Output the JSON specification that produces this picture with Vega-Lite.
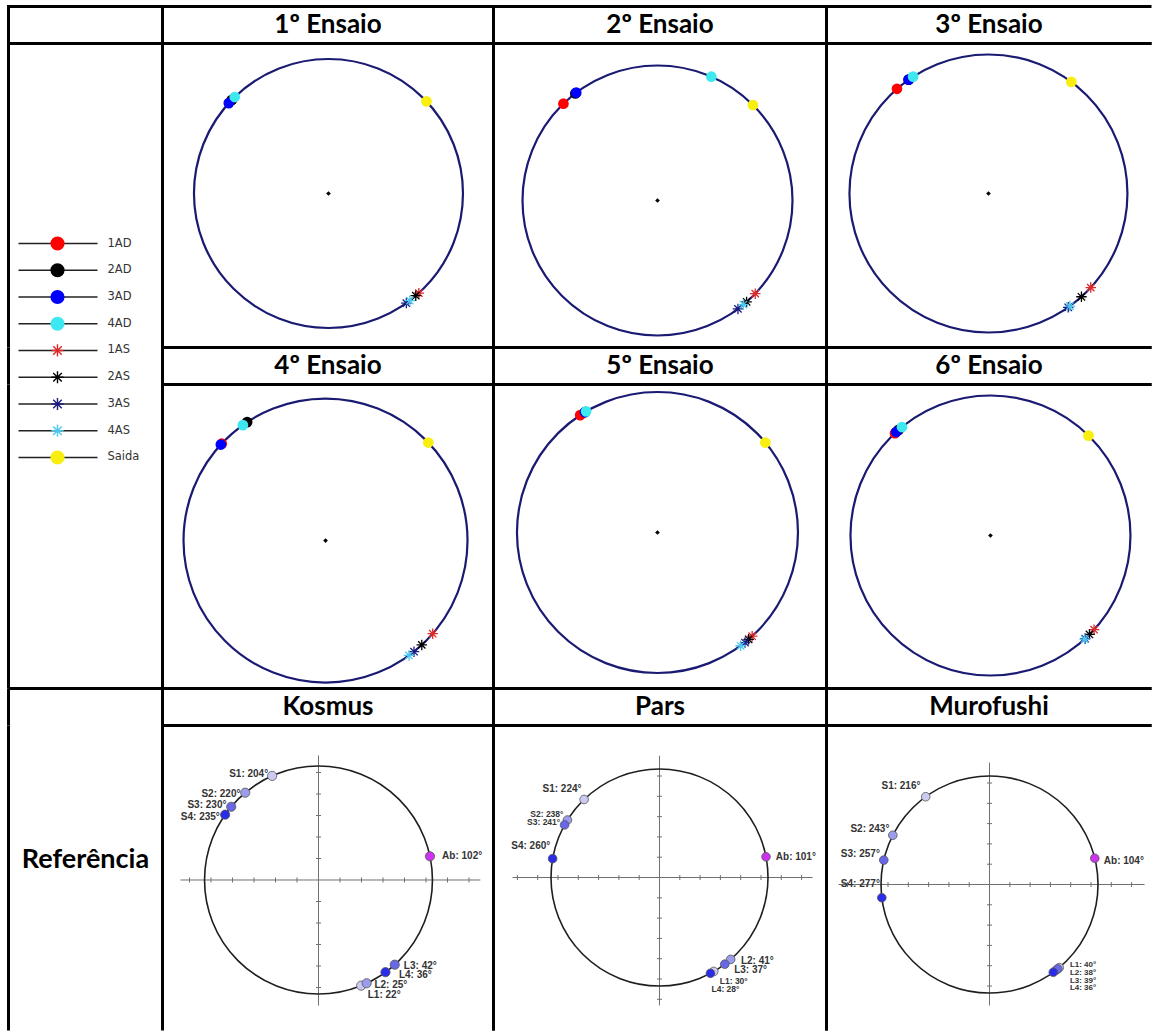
{
  "$schema": "https://vega.github.io/schema/vega-lite/v6.json",
  "background": "white",
  "padding": {"left": 6.5, "top": 4.5, "right": 0, "bottom": 0},
  "config": {"view": {"stroke": "#000000", "strokeWidth": 3}, "point": {"opacity": 1}},
  "datasets": {
    "ens": [
      {"e":1,"s":"1AD","k":"c","x":-0.719,"y":0.695},{"e":1,"s":"2AD","k":"c","x":-0.719,"y":0.695},{"e":1,"s":"3AD","k":"c","x":-0.741,"y":0.672},{"e":1,"s":"4AD","k":"c","x":-0.697,"y":0.717},{"e":1,"s":"Saida","k":"c","x":0.729,"y":0.685},
      {"e":1,"s":"1AS","k":"a","x":0.672,"y":-0.741},{"e":1,"s":"2AS","k":"a","x":0.649,"y":-0.760},{"e":1,"s":"3AS","k":"a","x":0.579,"y":-0.815},{"e":1,"s":"4AS","k":"a","x":0.605,"y":-0.797},
      {"e":2,"s":"1AD","k":"c","x":-0.697,"y":0.717},{"e":2,"s":"2AD","k":"c","x":-0.609,"y":0.793},{"e":2,"s":"3AD","k":"c","x":-0.602,"y":0.799},{"e":2,"s":"4AD","k":"c","x":0.399,"y":0.917},{"e":2,"s":"Saida","k":"c","x":0.707,"y":0.707},
      {"e":2,"s":"1AS","k":"a","x":0.724,"y":-0.690},{"e":2,"s":"2AS","k":"a","x":0.660,"y":-0.751},{"e":2,"s":"3AS","k":"a","x":0.596,"y":-0.803},{"e":2,"s":"4AS","k":"a","x":0.637,"y":-0.771},
      {"e":3,"s":"1AD","k":"c","x":-0.658,"y":0.753},{"e":3,"s":"2AD","k":"c","x":-0.574,"y":0.819},{"e":3,"s":"3AD","k":"c","x":-0.574,"y":0.819},{"e":3,"s":"4AD","k":"c","x":-0.542,"y":0.841},{"e":3,"s":"Saida","k":"c","x":0.596,"y":0.803},
      {"e":3,"s":"1AS","k":"a","x":0.736,"y":-0.677},{"e":3,"s":"2AS","k":"a","x":0.669,"y":-0.743},{"e":3,"s":"3AS","k":"a","x":0.574,"y":-0.819},{"e":3,"s":"4AS","k":"a","x":0.586,"y":-0.810},
      {"e":4,"s":"1AD","k":"c","x":-0.731,"y":0.682},{"e":4,"s":"2AD","k":"c","x":-0.552,"y":0.834},{"e":4,"s":"3AD","k":"c","x":-0.737,"y":0.676},{"e":4,"s":"4AD","k":"c","x":-0.582,"y":0.813},{"e":4,"s":"Saida","k":"c","x":0.724,"y":0.690},
      {"e":4,"s":"1AS","k":"a","x":0.755,"y":-0.656},{"e":4,"s":"2AS","k":"a","x":0.678,"y":-0.735},{"e":4,"s":"3AS","k":"a","x":0.623,"y":-0.783},{"e":4,"s":"4AS","k":"a","x":0.588,"y":-0.809},
      {"e":5,"s":"1AD","k":"c","x":-0.550,"y":0.835},{"e":5,"s":"2AD","k":"c","x":-0.515,"y":0.857},{"e":5,"s":"3AD","k":"c","x":-0.515,"y":0.857},{"e":5,"s":"4AD","k":"c","x":-0.508,"y":0.862},{"e":5,"s":"Saida","k":"c","x":0.768,"y":0.640},
      {"e":5,"s":"1AS","k":"a","x":0.674,"y":-0.738},{"e":5,"s":"2AS","k":"a","x":0.649,"y":-0.760},{"e":5,"s":"3AS","k":"a","x":0.623,"y":-0.783},{"e":5,"s":"4AS","k":"a","x":0.592,"y":-0.806},
      {"e":6,"s":"1AD","k":"c","x":-0.682,"y":0.731},{"e":6,"s":"2AD","k":"c","x":-0.656,"y":0.755},{"e":6,"s":"3AD","k":"c","x":-0.673,"y":0.740},{"e":6,"s":"4AD","k":"c","x":-0.632,"y":0.775},{"e":6,"s":"Saida","k":"c","x":0.700,"y":0.714},
      {"e":6,"s":"1AS","k":"a","x":0.740,"y":-0.673},{"e":6,"s":"2AS","k":"a","x":0.707,"y":-0.707},{"e":6,"s":"3AS","k":"a","x":0.676,"y":-0.737},{"e":6,"s":"4AS","k":"a","x":0.673,"y":-0.740}
    ],
    "leg": [
      {"s":"1AD","i":0,"k":"c"},{"s":"2AD","i":1,"k":"c"},{"s":"3AD","i":2,"k":"c"},{"s":"4AD","i":3,"k":"c"},
      {"s":"1AS","i":4,"k":"a"},{"s":"2AS","i":5,"k":"a"},{"s":"3AS","i":6,"k":"a"},{"s":"4AS","i":7,"k":"a"},{"s":"Saida","i":8,"k":"c"}
    ],
    "refpts": [
      {"p":"K","n":"S1","g":"1","x":-2.156,"y":4.842},{"p":"K","n":"S2","g":"2","x":-3.407,"y":4.060},{"p":"K","n":"S3","g":"3","x":-4.060,"y":3.407},{"p":"K","n":"S4","g":"4","x":-4.342,"y":3.040},{"p":"K","n":"Ab","g":"Ab","x":5.184,"y":1.102},
      {"p":"K","n":"L1","g":"1","x":1.985,"y":-4.914},{"p":"K","n":"L2","g":"2","x":2.240,"y":-4.803},{"p":"K","n":"L3","g":"3","x":3.546,"y":-3.939},{"p":"K","n":"L4","g":"4","x":3.115,"y":-4.288},
      {"p":"P","n":"S1","g":"1","x":-3.713,"y":3.845},{"p":"P","n":"S2","g":"2","x":-4.533,"y":2.832},{"p":"P","n":"S3","g":"3","x":-4.675,"y":2.591},{"p":"P","n":"S4","g":"4","x":-5.264,"y":0.928},{"p":"P","n":"Ab","g":"Ab","x":5.247,"y":1.020},
      {"p":"P","n":"L1","g":"1","x":2.673,"y":-4.629},{"p":"P","n":"L2","g":"2","x":3.507,"y":-4.034},{"p":"P","n":"L3","g":"3","x":3.217,"y":-4.269},{"p":"P","n":"L4","g":"4","x":2.509,"y":-4.719},
      {"p":"M","n":"S1","g":"1","x":-3.142,"y":4.324},{"p":"M","n":"S2","g":"2","x":-4.762,"y":2.427},{"p":"M","n":"S3","g":"3","x":-5.208,"y":1.203},{"p":"M","n":"S4","g":"4","x":-5.305,"y":-0.651},{"p":"M","n":"Ab","g":"Ab","x":5.186,"y":1.293},
      {"p":"M","n":"L1","g":"1","x":3.436,"y":-4.094},{"p":"M","n":"L2","g":"2","x":3.291,"y":-4.212},{"p":"M","n":"L3","g":"3","x":3.364,"y":-4.154},{"p":"M","n":"L4","g":"4","x":3.142,"y":-4.324}
    ],
    "reflab": [
      {"p":"K","t":"S1: 204°","x":-2.34,"y":4.94,"a":"r","z":"n"},{"p":"K","t":"S2: 220°","x":-3.63,"y":4.01,"a":"r","z":"n"},{"p":"K","t":"S3: 230°","x":-4.28,"y":3.50,"a":"r","z":"n"},{"p":"K","t":"S4: 235°","x":-4.59,"y":2.95,"a":"r","z":"n"},
      {"p":"K","t":"Ab: 102°","x":5.75,"y":1.11,"a":"l","z":"n"},{"p":"K","t":"L3: 42°","x":3.97,"y":-3.98,"a":"l","z":"n"},{"p":"K","t":"L4: 36°","x":3.74,"y":-4.44,"a":"l","z":"n"},{"p":"K","t":"L2: 25°","x":2.60,"y":-4.88,"a":"l","z":"n"},{"p":"K","t":"L1: 22°","x":2.29,"y":-5.37,"a":"l","z":"n"},
      {"p":"P","t":"S1: 224°","x":-3.84,"y":4.37,"a":"r","z":"n"},{"p":"P","t":"S2: 238°","x":-4.73,"y":3.14,"a":"r","z":"s"},{"p":"P","t":"S3: 241°","x":-4.89,"y":2.75,"a":"r","z":"s"},{"p":"P","t":"S4: 260°","x":-5.38,"y":1.53,"a":"r","z":"n"},
      {"p":"P","t":"Ab: 101°","x":5.73,"y":0.99,"a":"l","z":"n"},{"p":"P","t":"L2: 41°","x":4.01,"y":-4.09,"a":"l","z":"n"},{"p":"P","t":"L3: 37°","x":3.68,"y":-4.58,"a":"l","z":"n"},{"p":"P","t":"L1: 30°","x":2.97,"y":-5.10,"a":"l","z":"s"},{"p":"P","t":"L4: 28°","x":2.56,"y":-5.50,"a":"l","z":"s"},
      {"p":"M","t":"S1: 216°","x":-3.40,"y":4.83,"a":"r","z":"n"},{"p":"M","t":"S2: 243°","x":-4.93,"y":2.71,"a":"r","z":"n"},{"p":"M","t":"S3: 257°","x":-5.40,"y":1.48,"a":"r","z":"n"},{"p":"M","t":"S4: 277°","x":-5.40,"y":0.03,"a":"r","z":"n"},
      {"p":"M","t":"Ab: 104°","x":5.63,"y":1.18,"a":"l","z":"n"},{"p":"M","t":"L1: 40°","x":3.96,"y":-3.97,"a":"l","z":"s"},{"p":"M","t":"L2: 38°","x":3.96,"y":-4.35,"a":"l","z":"s"},{"p":"M","t":"L3: 39°","x":3.96,"y":-4.73,"a":"l","z":"s"},{"p":"M","t":"L4: 36°","x":3.96,"y":-5.11,"a":"l","z":"s"}
    ],
    "refax": [
      {"p":"K","x":-6.42,"x2":7.53,"y":0,"y2":0},{"p":"K","x":0,"x2":0,"y":-5.84,"y2":5.79},
      {"p":"P","x":-7.24,"x2":7.54,"y":0,"y2":0},{"p":"P","x":0,"x2":0,"y":-6.3,"y2":6.0},
      {"p":"M","x":-7.44,"x2":7.64,"y":0,"y2":0},{"p":"M","x":0,"x2":0,"y":-5.96,"y2":6.0}
    ],
    "reftk": [
      {"p":"K","o":"h","x":-6,"y":0},{"p":"K","o":"h","x":-5,"y":0},{"p":"K","o":"h","x":-4,"y":0},{"p":"K","o":"h","x":-3,"y":0},{"p":"K","o":"h","x":-2,"y":0},{"p":"K","o":"h","x":-1,"y":0},
      {"p":"K","o":"h","x":1,"y":0},{"p":"K","o":"h","x":2,"y":0},{"p":"K","o":"h","x":3,"y":0},{"p":"K","o":"h","x":4,"y":0},{"p":"K","o":"h","x":5,"y":0},{"p":"K","o":"h","x":6,"y":0},{"p":"K","o":"h","x":7,"y":0},
      {"p":"K","o":"v","x":0,"y":-5},{"p":"K","o":"v","x":0,"y":-4},{"p":"K","o":"v","x":0,"y":-3},{"p":"K","o":"v","x":0,"y":-2},{"p":"K","o":"v","x":0,"y":-1},
      {"p":"K","o":"v","x":0,"y":1},{"p":"K","o":"v","x":0,"y":2},{"p":"K","o":"v","x":0,"y":3},{"p":"K","o":"v","x":0,"y":4},{"p":"K","o":"v","x":0,"y":5},
      {"p":"P","o":"h","x":-7,"y":0},{"p":"P","o":"h","x":-6,"y":0},{"p":"P","o":"h","x":-5,"y":0},{"p":"P","o":"h","x":-4,"y":0},{"p":"P","o":"h","x":-3,"y":0},{"p":"P","o":"h","x":-2,"y":0},{"p":"P","o":"h","x":-1,"y":0},
      {"p":"P","o":"h","x":1,"y":0},{"p":"P","o":"h","x":2,"y":0},{"p":"P","o":"h","x":3,"y":0},{"p":"P","o":"h","x":4,"y":0},{"p":"P","o":"h","x":5,"y":0},{"p":"P","o":"h","x":6,"y":0},{"p":"P","o":"h","x":7,"y":0},
      {"p":"P","o":"v","x":0,"y":-6},{"p":"P","o":"v","x":0,"y":-5},{"p":"P","o":"v","x":0,"y":-4},{"p":"P","o":"v","x":0,"y":-3},{"p":"P","o":"v","x":0,"y":-2},{"p":"P","o":"v","x":0,"y":-1},
      {"p":"P","o":"v","x":0,"y":1},{"p":"P","o":"v","x":0,"y":2},{"p":"P","o":"v","x":0,"y":3},{"p":"P","o":"v","x":0,"y":4},{"p":"P","o":"v","x":0,"y":5},
      {"p":"M","o":"h","x":-7,"y":0},{"p":"M","o":"h","x":-6,"y":0},{"p":"M","o":"h","x":-5,"y":0},{"p":"M","o":"h","x":-4,"y":0},{"p":"M","o":"h","x":-3,"y":0},{"p":"M","o":"h","x":-2,"y":0},{"p":"M","o":"h","x":-1,"y":0},
      {"p":"M","o":"h","x":1,"y":0},{"p":"M","o":"h","x":2,"y":0},{"p":"M","o":"h","x":3,"y":0},{"p":"M","o":"h","x":4,"y":0},{"p":"M","o":"h","x":5,"y":0},{"p":"M","o":"h","x":6,"y":0},{"p":"M","o":"h","x":7,"y":0},
      {"p":"M","o":"v","x":0,"y":-5},{"p":"M","o":"v","x":0,"y":-4},{"p":"M","o":"v","x":0,"y":-3},{"p":"M","o":"v","x":0,"y":-2},{"p":"M","o":"v","x":0,"y":-1},
      {"p":"M","o":"v","x":0,"y":1},{"p":"M","o":"v","x":0,"y":2},{"p":"M","o":"v","x":0,"y":3},{"p":"M","o":"v","x":0,"y":4},{"p":"M","o":"v","x":0,"y":5}
    ]
  },
  "columns": 4,
  "spacing": 0,
  "bounds": "flush",
  "concat": [
    {"width": 154, "height": 37, "data": {"values": [{"t": ""}]}, "mark": {"type": "text", "fontSize": 24}, "encoding": {"x": {"datum": 0, "type": "quantitative", "scale": {"domain": [-1, 1]}, "axis": null}, "y": {"datum": 0, "type": "quantitative", "scale": {"domain": [-1, 1]}, "axis": null}, "text": {"field": "t"}}},
    {"width": 331, "height": 37, "data": {"values": [{"t": "1º Ensaio"}]}, "mark": {"type": "text", "font": "Lato", "fontWeight": "bold", "fontSize": 26, "color": "#000000"}, "encoding": {"x": {"datum": 0, "type": "quantitative", "scale": {"domain": [-1, 1]}, "axis": null}, "y": {"datum": 0, "type": "quantitative", "scale": {"domain": [-1, 1]}, "axis": null}, "text": {"field": "t"}}},
    {"width": 333, "height": 37, "data": {"values": [{"t": "2º Ensaio"}]}, "mark": {"type": "text", "font": "Lato", "fontWeight": "bold", "fontSize": 26, "color": "#000000"}, "encoding": {"x": {"datum": 0, "type": "quantitative", "scale": {"domain": [-1, 1]}, "axis": null}, "y": {"datum": 0, "type": "quantitative", "scale": {"domain": [-1, 1]}, "axis": null}, "text": {"field": "t"}}},
    {"width": 325, "height": 37, "view": {"strokeDash": [325, 37, 362, 0]}, "data": {"values": [{"t": "3º Ensaio"}]}, "mark": {"type": "text", "font": "Lato", "fontWeight": "bold", "fontSize": 26, "color": "#000000"}, "encoding": {"x": {"datum": 0, "type": "quantitative", "scale": {"domain": [-1, 1]}, "axis": null}, "y": {"datum": 0, "type": "quantitative", "scale": {"domain": [-1, 1]}, "axis": null}, "text": {"field": "t"}}},

    {
      "width": 154, "height": 304, "view": {"strokeDash": [0, 612, 304, 0]}, "data": {"name": "leg"}, "transform": [{"filter": "datum.i <= 3"}],
      "encoding": {"y": {"field": "i", "type": "quantitative", "scale": {"domain": [-7.477, 3.888], "reverse": true, "nice": false, "zero": false}, "axis": null}},
      "layer": [
        {"mark": {"type": "rule", "color": "#222222", "strokeWidth": 1.6}, "encoding": {"x": {"datum": 1.0, "type": "quantitative", "scale": {"domain": [0, 15.4], "nice": false, "zero": false}, "axis": null}, "x2": {"datum": 8.9}}},
        {"transform": [{"filter": "datum.k == 'c'"}], "mark": {"type": "point", "shape": "circle", "filled": true, "size": 200, "opacity": 1}, "encoding": {"x": {"datum": 4.9, "type": "quantitative"}, "color": {"field": "s", "type": "nominal", "scale": {"domain": ["1AD","2AD","3AD","4AD","1AS","2AS","3AS","4AS","Saida"], "range": ["#ff0000","#000000","#0000ff","#3ee8f0","#e02828","#000000","#1a1a80","#4cc8ee","#f8ee10"]}, "legend": null}}},
        {"transform": [{"filter": "datum.k == 'a'"}], "mark": {"type": "point", "shape": "M-1,0L1,0M0,-1L0,1M-0.7,-0.7L0.7,0.7M-0.7,0.7L0.7,-0.7", "filled": false, "size": 150, "strokeWidth": 1.4, "opacity": 1}, "encoding": {"x": {"datum": 4.9, "type": "quantitative"}, "color": {"field": "s", "type": "nominal", "scale": {"domain": ["1AD","2AD","3AD","4AD","1AS","2AS","3AS","4AS","Saida"], "range": ["#ff0000","#000000","#0000ff","#3ee8f0","#e02828","#000000","#1a1a80","#4cc8ee","#f8ee10"]}, "legend": null}}},
        {"mark": {"type": "text", "align": "left", "baseline": "middle", "font": "DejaVu Sans", "fontSize": 11.5, "color": "#333333"}, "encoding": {"x": {"datum": 9.9, "type": "quantitative"}, "text": {"field": "s"}}}
      ]
    },
    {
      "width": 331, "height": 304,
      "encoding": {"x": {"field": "x", "type": "quantitative", "scale": {"domain": [-1.234, 1.227], "nice": false, "zero": false}, "axis": null}, "y": {"field": "y", "type": "quantitative", "scale": {"domain": [-1.145, 1.115], "nice": false, "zero": false}, "axis": null}},
      "layer": [
        {"data": {"values": [{"x": 0, "y": 0}]}, "mark": {"type": "point", "shape": "circle", "size": 72361, "filled": false, "stroke": "#1a1a73", "strokeWidth": 2.2, "opacity": 1}},
        {"data": {"values": [{"x": 0, "y": 0}]}, "mark": {"type": "point", "shape": "diamond", "size": 22, "filled": true, "color": "#000000", "opacity": 1}},
        {"data": {"name": "ens"}, "transform": [{"filter": "datum.e == 1 && datum.k == 'c'"}], "mark": {"type": "point", "shape": "circle", "filled": true, "size": 115, "opacity": 1}, "encoding": {"color": {"field": "s", "type": "nominal", "scale": {"domain": ["1AD","2AD","3AD","4AD","1AS","2AS","3AS","4AS","Saida"], "range": ["#ff0000","#000000","#0000ff","#3ee8f0","#e02828","#000000","#1a1a80","#4cc8ee","#f8ee10"]}, "legend": null}}},
        {"data": {"name": "ens"}, "transform": [{"filter": "datum.e == 1 && datum.k == 'a'"}], "mark": {"type": "point", "shape": "M-1,0L1,0M0,-1L0,1M-0.7,-0.7L0.7,0.7M-0.7,0.7L0.7,-0.7", "filled": false, "size": 110, "strokeWidth": 1.3, "opacity": 1}, "encoding": {"color": {"field": "s", "type": "nominal", "scale": {"domain": ["1AD","2AD","3AD","4AD","1AS","2AS","3AS","4AS","Saida"], "range": ["#ff0000","#000000","#0000ff","#3ee8f0","#e02828","#000000","#1a1a80","#4cc8ee","#f8ee10"]}, "legend": null}}}
      ]
    },
    {
      "width": 333, "height": 304,
      "encoding": {"x": {"field": "x", "type": "quantitative", "scale": {"domain": [-1.215, 1.252], "nice": false, "zero": false}, "axis": null}, "y": {"field": "y", "type": "quantitative", "scale": {"domain": [-1.089, 1.163], "nice": false, "zero": false}, "axis": null}},
      "layer": [
        {"data": {"values": [{"x": 0, "y": 0}]}, "mark": {"type": "point", "shape": "circle", "size": 72900, "filled": false, "stroke": "#1a1a73", "strokeWidth": 2.2, "opacity": 1}},
        {"data": {"values": [{"x": 0, "y": 0}]}, "mark": {"type": "point", "shape": "diamond", "size": 22, "filled": true, "color": "#000000", "opacity": 1}},
        {"data": {"name": "ens"}, "transform": [{"filter": "datum.e == 2 && datum.k == 'c'"}], "mark": {"type": "point", "shape": "circle", "filled": true, "size": 115, "opacity": 1}, "encoding": {"color": {"field": "s", "type": "nominal", "scale": {"domain": ["1AD","2AD","3AD","4AD","1AS","2AS","3AS","4AS","Saida"], "range": ["#ff0000","#000000","#0000ff","#3ee8f0","#e02828","#000000","#1a1a80","#4cc8ee","#f8ee10"]}, "legend": null}}},
        {"data": {"name": "ens"}, "transform": [{"filter": "datum.e == 2 && datum.k == 'a'"}], "mark": {"type": "point", "shape": "M-1,0L1,0M0,-1L0,1M-0.7,-0.7L0.7,0.7M-0.7,0.7L0.7,-0.7", "filled": false, "size": 110, "strokeWidth": 1.3, "opacity": 1}, "encoding": {"color": {"field": "s", "type": "nominal", "scale": {"domain": ["1AD","2AD","3AD","4AD","1AS","2AS","3AS","4AS","Saida"], "range": ["#ff0000","#000000","#0000ff","#3ee8f0","#e02828","#000000","#1a1a80","#4cc8ee","#f8ee10"]}, "legend": null}}}
      ]
    },
    {
      "width": 325, "height": 304, "view": {"strokeDash": [325, 304, 629, 0]},
      "encoding": {"x": {"field": "x", "type": "quantitative", "scale": {"domain": [-1.165, 1.173], "nice": false, "zero": false}, "axis": null}, "y": {"field": "y", "type": "quantitative", "scale": {"domain": [-1.108, 1.079], "nice": false, "zero": false}, "axis": null}},
      "layer": [
        {"data": {"values": [{"x": 0, "y": 0}]}, "mark": {"type": "point", "shape": "circle", "size": 77284, "filled": false, "stroke": "#1a1a73", "strokeWidth": 2.2, "opacity": 1}},
        {"data": {"values": [{"x": 0, "y": 0}]}, "mark": {"type": "point", "shape": "diamond", "size": 22, "filled": true, "color": "#000000", "opacity": 1}},
        {"data": {"name": "ens"}, "transform": [{"filter": "datum.e == 3 && datum.k == 'c'"}], "mark": {"type": "point", "shape": "circle", "filled": true, "size": 115, "opacity": 1}, "encoding": {"color": {"field": "s", "type": "nominal", "scale": {"domain": ["1AD","2AD","3AD","4AD","1AS","2AS","3AS","4AS","Saida"], "range": ["#ff0000","#000000","#0000ff","#3ee8f0","#e02828","#000000","#1a1a80","#4cc8ee","#f8ee10"]}, "legend": null}}},
        {"data": {"name": "ens"}, "transform": [{"filter": "datum.e == 3 && datum.k == 'a'"}], "mark": {"type": "point", "shape": "M-1,0L1,0M0,-1L0,1M-0.7,-0.7L0.7,0.7M-0.7,0.7L0.7,-0.7", "filled": false, "size": 110, "strokeWidth": 1.3, "opacity": 1}, "encoding": {"color": {"field": "s", "type": "nominal", "scale": {"domain": ["1AD","2AD","3AD","4AD","1AS","2AS","3AS","4AS","Saida"], "range": ["#ff0000","#000000","#0000ff","#3ee8f0","#e02828","#000000","#1a1a80","#4cc8ee","#f8ee10"]}, "legend": null}}}
      ]
    },

    {
      "width": 154, "height": 37, "view": {"strokeDash": [0, 345, 37, 0]}, "data": {"name": "leg"}, "transform": [{"filter": "datum.i >= 4 && datum.i <= 5"}],
      "encoding": {"y": {"field": "i", "type": "quantitative", "scale": {"domain": [3.888, 5.271], "reverse": true, "nice": false, "zero": false}, "axis": null}},
      "layer": [
        {"mark": {"type": "rule", "color": "#222222", "strokeWidth": 1.6}, "encoding": {"x": {"datum": 1.0, "type": "quantitative", "scale": {"domain": [0, 15.4], "nice": false, "zero": false}, "axis": null}, "x2": {"datum": 8.9}}},
        {"transform": [{"filter": "datum.k == 'a'"}], "mark": {"type": "point", "shape": "M-1,0L1,0M0,-1L0,1M-0.7,-0.7L0.7,0.7M-0.7,0.7L0.7,-0.7", "filled": false, "size": 150, "strokeWidth": 1.4, "opacity": 1}, "encoding": {"x": {"datum": 4.9, "type": "quantitative"}, "color": {"field": "s", "type": "nominal", "scale": {"domain": ["1AD","2AD","3AD","4AD","1AS","2AS","3AS","4AS","Saida"], "range": ["#ff0000","#000000","#0000ff","#3ee8f0","#e02828","#000000","#1a1a80","#4cc8ee","#f8ee10"]}, "legend": null}}},
        {"mark": {"type": "text", "align": "left", "baseline": "middle", "font": "DejaVu Sans", "fontSize": 11.5, "color": "#333333"}, "encoding": {"x": {"datum": 9.9, "type": "quantitative"}, "text": {"field": "s"}}}
      ]
    },
    {"width": 331, "height": 37, "data": {"values": [{"t": "4º Ensaio"}]}, "mark": {"type": "text", "font": "Lato", "fontWeight": "bold", "fontSize": 26, "color": "#000000"}, "encoding": {"x": {"datum": 0, "type": "quantitative", "scale": {"domain": [-1, 1]}, "axis": null}, "y": {"datum": 0, "type": "quantitative", "scale": {"domain": [-1, 1]}, "axis": null}, "text": {"field": "t"}}},
    {"width": 333, "height": 37, "data": {"values": [{"t": "5º Ensaio"}]}, "mark": {"type": "text", "font": "Lato", "fontWeight": "bold", "fontSize": 26, "color": "#000000"}, "encoding": {"x": {"datum": 0, "type": "quantitative", "scale": {"domain": [-1, 1]}, "axis": null}, "y": {"datum": 0, "type": "quantitative", "scale": {"domain": [-1, 1]}, "axis": null}, "text": {"field": "t"}}},
    {"width": 325, "height": 37, "view": {"strokeDash": [325, 37, 362, 0]}, "data": {"values": [{"t": "6º Ensaio"}]}, "mark": {"type": "text", "font": "Lato", "fontWeight": "bold", "fontSize": 26, "color": "#000000"}, "encoding": {"x": {"datum": 0, "type": "quantitative", "scale": {"domain": [-1, 1]}, "axis": null}, "y": {"datum": 0, "type": "quantitative", "scale": {"domain": [-1, 1]}, "axis": null}, "text": {"field": "t"}}},

    {
      "width": 154, "height": 304, "view": {"strokeDash": [0, 612, 304, 0]}, "data": {"name": "leg"}, "transform": [{"filter": "datum.i >= 6"}],
      "encoding": {"y": {"field": "i", "type": "quantitative", "scale": {"domain": [5.271, 16.636], "reverse": true, "nice": false, "zero": false}, "axis": null}},
      "layer": [
        {"mark": {"type": "rule", "color": "#222222", "strokeWidth": 1.6}, "encoding": {"x": {"datum": 1.0, "type": "quantitative", "scale": {"domain": [0, 15.4], "nice": false, "zero": false}, "axis": null}, "x2": {"datum": 8.9}}},
        {"transform": [{"filter": "datum.k == 'c'"}], "mark": {"type": "point", "shape": "circle", "filled": true, "size": 200, "opacity": 1}, "encoding": {"x": {"datum": 4.9, "type": "quantitative"}, "color": {"field": "s", "type": "nominal", "scale": {"domain": ["1AD","2AD","3AD","4AD","1AS","2AS","3AS","4AS","Saida"], "range": ["#ff0000","#000000","#0000ff","#3ee8f0","#e02828","#000000","#1a1a80","#4cc8ee","#f8ee10"]}, "legend": null}}},
        {"transform": [{"filter": "datum.k == 'a'"}], "mark": {"type": "point", "shape": "M-1,0L1,0M0,-1L0,1M-0.7,-0.7L0.7,0.7M-0.7,0.7L0.7,-0.7", "filled": false, "size": 150, "strokeWidth": 1.4, "opacity": 1}, "encoding": {"x": {"datum": 4.9, "type": "quantitative"}, "color": {"field": "s", "type": "nominal", "scale": {"domain": ["1AD","2AD","3AD","4AD","1AS","2AS","3AS","4AS","Saida"], "range": ["#ff0000","#000000","#0000ff","#3ee8f0","#e02828","#000000","#1a1a80","#4cc8ee","#f8ee10"]}, "legend": null}}},
        {"mark": {"type": "text", "align": "left", "baseline": "middle", "font": "DejaVu Sans", "fontSize": 11.5, "color": "#333333"}, "encoding": {"x": {"datum": 9.9, "type": "quantitative"}, "text": {"field": "s"}}}
      ]
    },
    {
      "width": 331, "height": 304,
      "encoding": {"x": {"field": "x", "type": "quantitative", "scale": {"domain": [-1.148, 1.183], "nice": false, "zero": false}, "axis": null}, "y": {"field": "y", "type": "quantitative", "scale": {"domain": [-1.042, 1.099], "nice": false, "zero": false}, "axis": null}},
      "layer": [
        {"data": {"values": [{"x": 0, "y": 0}]}, "mark": {"type": "point", "shape": "circle", "size": 80656, "filled": false, "stroke": "#1a1a73", "strokeWidth": 2.2, "opacity": 1}},
        {"data": {"values": [{"x": 0, "y": 0}]}, "mark": {"type": "point", "shape": "diamond", "size": 22, "filled": true, "color": "#000000", "opacity": 1}},
        {"data": {"name": "ens"}, "transform": [{"filter": "datum.e == 4 && datum.k == 'c'"}], "mark": {"type": "point", "shape": "circle", "filled": true, "size": 115, "opacity": 1}, "encoding": {"color": {"field": "s", "type": "nominal", "scale": {"domain": ["1AD","2AD","3AD","4AD","1AS","2AS","3AS","4AS","Saida"], "range": ["#ff0000","#000000","#0000ff","#3ee8f0","#e02828","#000000","#1a1a80","#4cc8ee","#f8ee10"]}, "legend": null}}},
        {"data": {"name": "ens"}, "transform": [{"filter": "datum.e == 4 && datum.k == 'a'"}], "mark": {"type": "point", "shape": "M-1,0L1,0M0,-1L0,1M-0.7,-0.7L0.7,0.7M-0.7,0.7L0.7,-0.7", "filled": false, "size": 110, "strokeWidth": 1.3, "opacity": 1}, "encoding": {"color": {"field": "s", "type": "nominal", "scale": {"domain": ["1AD","2AD","3AD","4AD","1AS","2AS","3AS","4AS","Saida"], "range": ["#ff0000","#000000","#0000ff","#3ee8f0","#e02828","#000000","#1a1a80","#4cc8ee","#f8ee10"]}, "legend": null}}}
      ]
    },
    {
      "width": 333, "height": 304,
      "encoding": {"x": {"field": "x", "type": "quantitative", "scale": {"domain": [-1.167, 1.203], "nice": false, "zero": false}, "axis": null}, "y": {"field": "y", "type": "quantitative", "scale": {"domain": [-1.11, 1.053], "nice": false, "zero": false}, "axis": null}},
      "layer": [
        {"data": {"values": [{"x": 0, "y": 0}]}, "mark": {"type": "point", "shape": "circle", "size": 78961, "filled": false, "stroke": "#1a1a73", "strokeWidth": 2.2, "opacity": 1}},
        {"data": {"values": [{"x": 0, "y": 0}]}, "mark": {"type": "point", "shape": "diamond", "size": 22, "filled": true, "color": "#000000", "opacity": 1}},
        {"data": {"name": "ens"}, "transform": [{"filter": "datum.e == 5 && datum.k == 'c'"}], "mark": {"type": "point", "shape": "circle", "filled": true, "size": 115, "opacity": 1}, "encoding": {"color": {"field": "s", "type": "nominal", "scale": {"domain": ["1AD","2AD","3AD","4AD","1AS","2AS","3AS","4AS","Saida"], "range": ["#ff0000","#000000","#0000ff","#3ee8f0","#e02828","#000000","#1a1a80","#4cc8ee","#f8ee10"]}, "legend": null}}},
        {"data": {"name": "ens"}, "transform": [{"filter": "datum.e == 5 && datum.k == 'a'"}], "mark": {"type": "point", "shape": "M-1,0L1,0M0,-1L0,1M-0.7,-0.7L0.7,0.7M-0.7,0.7L0.7,-0.7", "filled": false, "size": 110, "strokeWidth": 1.3, "opacity": 1}, "encoding": {"color": {"field": "s", "type": "nominal", "scale": {"domain": ["1AD","2AD","3AD","4AD","1AS","2AS","3AS","4AS","Saida"], "range": ["#ff0000","#000000","#0000ff","#3ee8f0","#e02828","#000000","#1a1a80","#4cc8ee","#f8ee10"]}, "legend": null}}}
      ]
    },
    {
      "width": 325, "height": 304, "view": {"strokeDash": [325, 304, 629, 0]},
      "encoding": {"x": {"field": "x", "type": "quantitative", "scale": {"domain": [-1.171, 1.15], "nice": false, "zero": false}, "axis": null}, "y": {"field": "y", "type": "quantitative", "scale": {"domain": [-1.093, 1.079], "nice": false, "zero": false}, "axis": null}},
      "layer": [
        {"data": {"values": [{"x": 0, "y": 0}]}, "mark": {"type": "point", "shape": "circle", "size": 78400, "filled": false, "stroke": "#1a1a73", "strokeWidth": 2.2, "opacity": 1}},
        {"data": {"values": [{"x": 0, "y": 0}]}, "mark": {"type": "point", "shape": "diamond", "size": 22, "filled": true, "color": "#000000", "opacity": 1}},
        {"data": {"name": "ens"}, "transform": [{"filter": "datum.e == 6 && datum.k == 'c'"}], "mark": {"type": "point", "shape": "circle", "filled": true, "size": 115, "opacity": 1}, "encoding": {"color": {"field": "s", "type": "nominal", "scale": {"domain": ["1AD","2AD","3AD","4AD","1AS","2AS","3AS","4AS","Saida"], "range": ["#ff0000","#000000","#0000ff","#3ee8f0","#e02828","#000000","#1a1a80","#4cc8ee","#f8ee10"]}, "legend": null}}},
        {"data": {"name": "ens"}, "transform": [{"filter": "datum.e == 6 && datum.k == 'a'"}], "mark": {"type": "point", "shape": "M-1,0L1,0M0,-1L0,1M-0.7,-0.7L0.7,0.7M-0.7,0.7L0.7,-0.7", "filled": false, "size": 110, "strokeWidth": 1.3, "opacity": 1}, "encoding": {"color": {"field": "s", "type": "nominal", "scale": {"domain": ["1AD","2AD","3AD","4AD","1AS","2AS","3AS","4AS","Saida"], "range": ["#ff0000","#000000","#0000ff","#3ee8f0","#e02828","#000000","#1a1a80","#4cc8ee","#f8ee10"]}, "legend": null}}}
      ]
    },

    {"width": 154, "height": 37, "view": {"strokeDash": [154, 191, 37, 0]}, "data": {"values": [{"t": ""}]}, "mark": {"type": "text", "fontSize": 24}, "encoding": {"x": {"datum": 0, "type": "quantitative", "scale": {"domain": [-1, 1]}, "axis": null}, "y": {"datum": 0, "type": "quantitative", "scale": {"domain": [-1, 1]}, "axis": null}, "text": {"field": "t"}}},
    {"width": 331, "height": 37, "data": {"values": [{"t": "Kosmus"}]}, "mark": {"type": "text", "font": "Lato", "fontWeight": "bold", "fontSize": 26, "color": "#000000"}, "encoding": {"x": {"datum": 0, "type": "quantitative", "scale": {"domain": [-1, 1]}, "axis": null}, "y": {"datum": 0, "type": "quantitative", "scale": {"domain": [-1, 1]}, "axis": null}, "text": {"field": "t"}}},
    {"width": 333, "height": 37, "data": {"values": [{"t": "Pars"}]}, "mark": {"type": "text", "font": "Lato", "fontWeight": "bold", "fontSize": 26, "color": "#000000"}, "encoding": {"x": {"datum": 0, "type": "quantitative", "scale": {"domain": [-1, 1]}, "axis": null}, "y": {"datum": 0, "type": "quantitative", "scale": {"domain": [-1, 1]}, "axis": null}, "text": {"field": "t"}}},
    {"width": 325, "height": 37, "view": {"strokeDash": [325, 37, 362, 0]}, "data": {"values": [{"t": "Murofushi"}]}, "mark": {"type": "text", "font": "Lato", "fontWeight": "bold", "fontSize": 26, "color": "#000000"}, "encoding": {"x": {"datum": 0, "type": "quantitative", "scale": {"domain": [-1, 1]}, "axis": null}, "y": {"datum": 0, "type": "quantitative", "scale": {"domain": [-1, 1]}, "axis": null}, "text": {"field": "t"}}},

    {"width": 154, "height": 305, "view": {"strokeDash": [0, 613, 305, 0]}, "data": {"values": [{"t": "Referência"}]}, "mark": {"type": "text", "font": "Lato", "fontWeight": "bold", "fontSize": 27, "color": "#000000"}, "encoding": {"x": {"datum": 0, "type": "quantitative", "scale": {"domain": [-1, 1]}, "axis": null}, "y": {"datum": 0, "type": "quantitative", "scale": {"domain": [-1.115, 0.885]}, "axis": null}, "text": {"field": "t"}}},
    {
      "width": 331, "height": 305, "view": {"strokeDash": [636, 331, 305, 0]},
      "encoding": {"x": {"field": "x", "type": "quantitative", "scale": {"domain": [-7.256, 8.14], "nice": false, "zero": false}, "axis": null}, "y": {"field": "y", "type": "quantitative", "scale": {"domain": [-7.0, 7.186], "nice": false, "zero": false}, "axis": null}},
      "layer": [
        {"data": {"name": "refax"}, "transform": [{"filter": "datum.p == 'K'"}], "mark": {"type": "rule", "color": "#707070", "strokeWidth": 1}, "encoding": {"x2": {"field": "x2"}, "y2": {"field": "y2"}}},
        {"data": {"name": "reftk"}, "transform": [{"filter": "datum.p == 'K' && datum.o == 'h'"}], "mark": {"type": "tick", "orient": "vertical", "size": 5, "thickness": 1, "color": "#707070", "opacity": 1}},
        {"data": {"name": "reftk"}, "transform": [{"filter": "datum.p == 'K' && datum.o == 'v'"}], "mark": {"type": "tick", "orient": "horizontal", "size": 5, "thickness": 1, "color": "#707070", "opacity": 1}},
        {"data": {"values": [{"x": 0, "y": 0}]}, "mark": {"type": "point", "shape": "circle", "size": 51940, "filled": false, "stroke": "#1e1e1e", "strokeWidth": 1.6, "opacity": 1}},
        {"data": {"name": "refpts"}, "transform": [{"filter": "datum.p == 'K'"}], "mark": {"type": "point", "shape": "circle", "filled": true, "size": 85, "stroke": "#555555", "strokeWidth": 0.8, "opacity": 1}, "encoding": {"fill": {"field": "g", "type": "nominal", "scale": {"domain": ["1","2","3","4","Ab"], "range": ["#cacaf2","#9c9cec","#6767e8","#2b2bea","#cc33ee"]}, "legend": null}}},
        {"data": {"name": "reflab"}, "transform": [{"filter": "datum.p == 'K' && datum.a == 'r'"}], "mark": {"type": "text", "align": "right", "baseline": "middle", "font": "Liberation Sans", "fontWeight": "bold", "fontSize": 10, "color": "#333333"}, "encoding": {"text": {"field": "t"}}},
        {"data": {"name": "reflab"}, "transform": [{"filter": "datum.p == 'K' && datum.a == 'l'"}], "mark": {"type": "text", "align": "left", "baseline": "middle", "font": "Liberation Sans", "fontWeight": "bold", "fontSize": 10, "color": "#333333"}, "encoding": {"text": {"field": "t"}}}
      ]
    },
    {
      "width": 333, "height": 305, "view": {"strokeDash": [638, 333, 305, 0]},
      "encoding": {"x": {"field": "x", "type": "quantitative", "scale": {"domain": [-8.177, 8.227], "nice": false, "zero": false}, "axis": null}, "y": {"field": "y", "type": "quantitative", "scale": {"domain": [-7.537, 7.488], "nice": false, "zero": false}, "axis": null}},
      "layer": [
        {"data": {"name": "refax"}, "transform": [{"filter": "datum.p == 'P'"}], "mark": {"type": "rule", "color": "#707070", "strokeWidth": 1}, "encoding": {"x2": {"field": "x2"}, "y2": {"field": "y2"}}},
        {"data": {"name": "reftk"}, "transform": [{"filter": "datum.p == 'P' && datum.o == 'h'"}], "mark": {"type": "tick", "orient": "vertical", "size": 5, "thickness": 1, "color": "#707070", "opacity": 1}},
        {"data": {"name": "reftk"}, "transform": [{"filter": "datum.p == 'P' && datum.o == 'v'"}], "mark": {"type": "tick", "orient": "horizontal", "size": 5, "thickness": 1, "color": "#707070", "opacity": 1}},
        {"data": {"values": [{"x": 0, "y": 0}]}, "mark": {"type": "point", "shape": "circle", "size": 47089, "filled": false, "stroke": "#1e1e1e", "strokeWidth": 1.6, "opacity": 1}},
        {"data": {"name": "refpts"}, "transform": [{"filter": "datum.p == 'P'"}], "mark": {"type": "point", "shape": "circle", "filled": true, "size": 75, "stroke": "#555555", "strokeWidth": 0.8, "opacity": 1}, "encoding": {"fill": {"field": "g", "type": "nominal", "scale": {"domain": ["1","2","3","4","Ab"], "range": ["#cacaf2","#9c9cec","#6767e8","#2b2bea","#cc33ee"]}, "legend": null}}},
        {"data": {"name": "reflab"}, "transform": [{"filter": "datum.p == 'P' && datum.a == 'r' && datum.z == 'n'"}], "mark": {"type": "text", "align": "right", "baseline": "middle", "font": "Liberation Sans", "fontWeight": "bold", "fontSize": 10, "color": "#333333"}, "encoding": {"text": {"field": "t"}}},
        {"data": {"name": "reflab"}, "transform": [{"filter": "datum.p == 'P' && datum.a == 'r' && datum.z == 's'"}], "mark": {"type": "text", "align": "right", "baseline": "middle", "font": "Liberation Sans", "fontWeight": "bold", "fontSize": 8.5, "color": "#333333"}, "encoding": {"text": {"field": "t"}}},
        {"data": {"name": "reflab"}, "transform": [{"filter": "datum.p == 'P' && datum.a == 'l' && datum.z == 'n'"}], "mark": {"type": "text", "align": "left", "baseline": "middle", "font": "Liberation Sans", "fontWeight": "bold", "fontSize": 10, "color": "#333333"}, "encoding": {"text": {"field": "t"}}},
        {"data": {"name": "reflab"}, "transform": [{"filter": "datum.p == 'P' && datum.a == 'l' && datum.z == 's'"}], "mark": {"type": "text", "align": "left", "baseline": "middle", "font": "Liberation Sans", "fontWeight": "bold", "fontSize": 8.5, "color": "#333333"}, "encoding": {"text": {"field": "t"}}}
      ]
    },
    {
      "width": 325, "height": 305, "view": {"strokeDash": [325, 630, 305, 0]},
      "encoding": {"x": {"field": "x", "type": "quantitative", "scale": {"domain": [-8.03, 7.98], "nice": false, "zero": false}, "axis": null}, "y": {"field": "y", "type": "quantitative", "scale": {"domain": [-7.192, 7.833], "nice": false, "zero": false}, "axis": null}},
      "layer": [
        {"data": {"name": "refax"}, "transform": [{"filter": "datum.p == 'M'"}], "mark": {"type": "rule", "color": "#707070", "strokeWidth": 1}, "encoding": {"x2": {"field": "x2"}, "y2": {"field": "y2"}}},
        {"data": {"name": "reftk"}, "transform": [{"filter": "datum.p == 'M' && datum.o == 'h'"}], "mark": {"type": "tick", "orient": "vertical", "size": 5, "thickness": 1, "color": "#707070", "opacity": 1}},
        {"data": {"name": "reftk"}, "transform": [{"filter": "datum.p == 'M' && datum.o == 'v'"}], "mark": {"type": "tick", "orient": "horizontal", "size": 5, "thickness": 1, "color": "#707070", "opacity": 1}},
        {"data": {"values": [{"x": 0, "y": 0}]}, "mark": {"type": "point", "shape": "circle", "size": 47089, "filled": false, "stroke": "#1e1e1e", "strokeWidth": 1.6, "opacity": 1}},
        {"data": {"name": "refpts"}, "transform": [{"filter": "datum.p == 'M'"}], "mark": {"type": "point", "shape": "circle", "filled": true, "size": 75, "stroke": "#555555", "strokeWidth": 0.8, "opacity": 1}, "encoding": {"fill": {"field": "g", "type": "nominal", "scale": {"domain": ["1","2","3","4","Ab"], "range": ["#cacaf2","#9c9cec","#6767e8","#2b2bea","#cc33ee"]}, "legend": null}}},
        {"data": {"name": "reflab"}, "transform": [{"filter": "datum.p == 'M' && datum.a == 'r'"}], "mark": {"type": "text", "align": "right", "baseline": "middle", "font": "Liberation Sans", "fontWeight": "bold", "fontSize": 10, "color": "#333333"}, "encoding": {"text": {"field": "t"}}},
        {"data": {"name": "reflab"}, "transform": [{"filter": "datum.p == 'M' && datum.a == 'l' && datum.z == 'n'"}], "mark": {"type": "text", "align": "left", "baseline": "middle", "font": "Liberation Sans", "fontWeight": "bold", "fontSize": 10, "color": "#333333"}, "encoding": {"text": {"field": "t"}}},
        {"data": {"name": "reflab"}, "transform": [{"filter": "datum.p == 'M' && datum.a == 'l' && datum.z == 's'"}], "mark": {"type": "text", "align": "left", "baseline": "middle", "font": "Liberation Sans", "fontWeight": "bold", "fontSize": 8, "color": "#333333"}, "encoding": {"text": {"field": "t"}}}
      ]
    }
  ]
}
